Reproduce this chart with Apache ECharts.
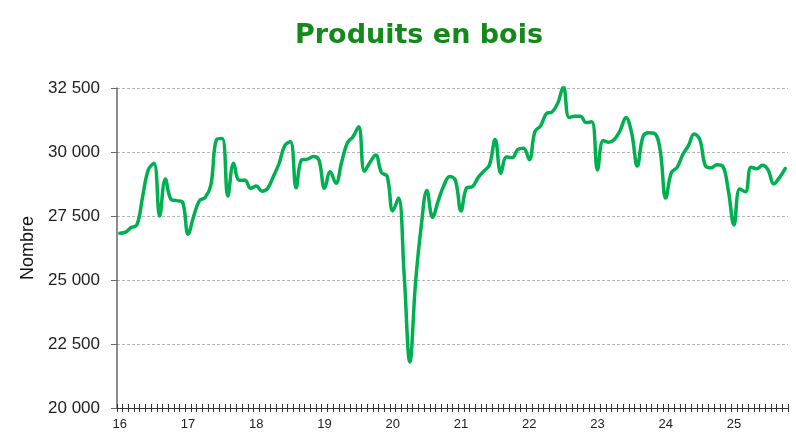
<!DOCTYPE html>
<html>
<head>
<meta charset="utf-8">
<script src="https://cdn.jsdelivr.net/npm/echarts@6/dist/echarts.min.js"></script>
<style>
html,body{margin:0;padding:0;background:#fff;}
#chart{width:796px;height:443px;}
</style>
</head>
<body>
<div id="chart"></div>
<script>
// Monthly values, Jan 2016 - Oct 2025
const v2016 = [26830, 26870, 27050, 27150, 28250, 29300, 29560, 27500, 28950, 28150, 28100, 28050];
const v2017 = [26790, 27500, 28100, 28220, 28700, 30480, 30530, 28280, 29560, 28900, 28900, 28580];
const v2018 = [28670, 28470, 28580, 29040, 29550, 30250, 30400, 28600, 29700, 29720, 29820, 29690];
const v2019 = [28580, 29230, 28780, 29600, 30350, 30600, 30990, 29250, 29600, 29880, 29200, 29050];
const v2020 = [27700, 28200, 25200, 21800, 24900, 27100, 28500, 27450, 28100, 28700, 29040, 28900];
const v2021 = [27700, 28600, 28650, 29000, 29250, 29500, 30490, 29170, 29800, 29780, 30100, 30150];
const v2022 = [29700, 30800, 31020, 31500, 31560, 31900, 32550, 31350, 31400, 31400, 31150, 31180];
const v2023 = [29300, 30450, 30380, 30500, 30850, 31350, 30750, 29450, 30600, 30750, 30730, 30100];
const v2024 = [28200, 29200, 29400, 29900, 30250, 30700, 30480, 29450, 29380, 29500, 29450, 28500];
const v2025 = [27150, 28550, 28450, 29400, 29350, 29480, 29300, 28750, 29000, 29350];

const yearLabels = ['16','17','18','19','20','21','22','23','24','25'];
const yearValues = [v2016, v2017, v2018, v2019, v2020, v2021, v2022, v2023, v2024, v2025];

const categories = [];
const values = [];
yearValues.forEach((arr, yi) => {
  arr.forEach((v, m) => {
    categories.push(yearLabels[yi] + '-' + (m + 1));
    values.push(v);
  });
});

const titleText = 'Produits en bois';
const yName = 'Nombre';

const fmt = v => {
  const s = String(Math.round(v));
  return s.length > 3 ? s.slice(0, s.length - 3) + ' ' + s.slice(-3) : s;
};

const chart = echarts.init(document.getElementById('chart'), null, {renderer: 'canvas'});
chart.setOption({
  animation: false,
  backgroundColor: '#ffffff',
  title: {
    text: titleText,
    left: 290,
    top: 17,
    textStyle: {
      fontFamily: 'DejaVu Sans',
      fontWeight: 'bold',
      fontSize: 27,
      color: '#13891a'
    }
  },
  grid: {left: 117, right: 8, top: 88, bottom: 35},
  xAxis: [{
    type: 'category',
    data: categories,
    boundaryGap: true,
    axisLine: {onZero: false, lineStyle: {color: '#333333', width: 1}},
    axisTick: {show: true, interval: 0, length: 4, lineStyle: {color: '#333333'}},
    axisLabel: {
      interval: (idx) => idx % 12 === 0,
      formatter: (val) => val.split('-')[0],
      fontFamily: 'Liberation Sans',
      fontSize: 13,
      color: '#222222',
      margin: 10
    },
    splitLine: {show: false}
  }, {
    type: 'category',
    data: categories,
    boundaryGap: true,
    position: 'bottom',
    axisLine: {show: false, onZero: false},
    axisTick: {show: true, inside: true, interval: 0, length: 4, lineStyle: {color: '#333333'}},
    axisLabel: {show: false},
    splitLine: {show: false}
  }],
  yAxis: {
    type: 'value',
    min: 20000,
    max: 32500,
    interval: 2500,
    name: yName,
    nameLocation: 'middle',
    nameGap: 80,
    nameRotate: 90,
    nameTextStyle: {fontFamily: 'Liberation Sans Narrow, Liberation Sans', fontSize: 18, color: '#111111'},
    axisLine: {show: true, lineStyle: {color: '#666666', width: 1.5}},
    axisTick: {show: true, length: 6, lineStyle: {color: '#666666'}},
    axisLabel: {
      formatter: fmt,
      fontFamily: 'Liberation Sans',
      fontSize: 17,
      color: '#222222',
      margin: 17
    },
    splitLine: {show: true, lineStyle: {color: '#b4b4b4', type: [3, 2], width: 1}}
  },
  series: [{
    type: 'line',
    data: values,
    xAxisIndex: 0,
    smooth: 0.4,
    symbol: 'none',
    lineStyle: {color: '#00b050', width: 3.5, cap: 'round', join: 'round'},
    itemStyle: {color: '#00b050'}
  }]
});
</script>
</body>
</html>
